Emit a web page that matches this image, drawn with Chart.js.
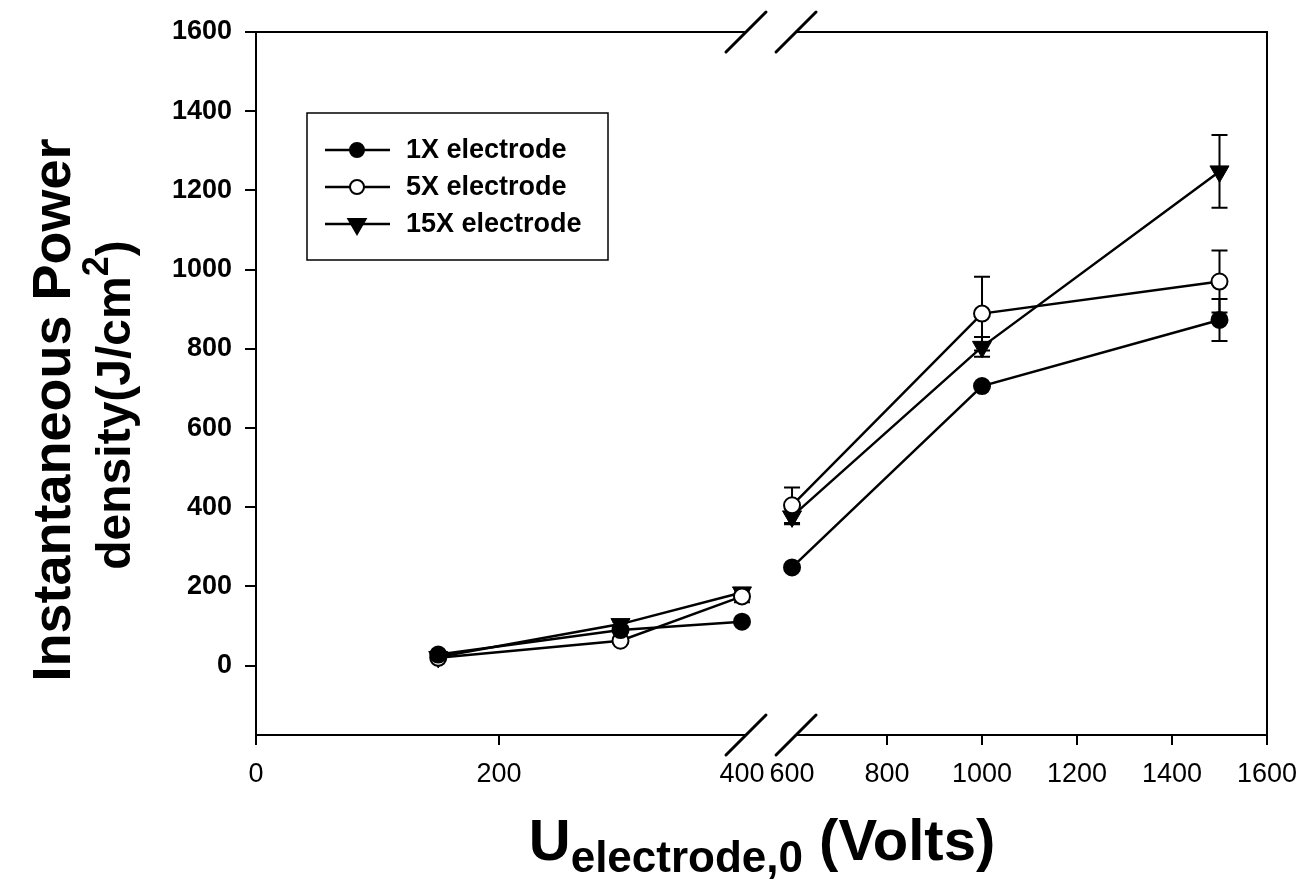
<!DOCTYPE html>
<html>
<head>
<meta charset="utf-8">
<title>Instantaneous Power density</title>
<script src="https://cdn.jsdelivr.net/npm/chart.js@4.4.1/dist/chart.umd.min.js"></script>
<style>
  html, body { margin: 0; padding: 0; background: #fff; }
  #wrap { width: 1302px; height: 881px; }
</style>
</head>
<body>
<div id="wrap"><canvas id="chart" width="1302" height="881"></canvas></div>
<script>
// Voltages (V) used for every electrode
const voltages = [150, 300, 400, 600, 1000, 1500];

// Instantaneous power density (J/cm2) with error bars
const power1x = [28, 90, 111, 248, 706, 873];
const err1x = [0, 0, 0, 0, 0, 53];
const power5x = [20, 63, 175, 405, 889, 970];
const err5x = [0, 6, 15, 45, 93, 78];
const power15x = [22, 105, 185, 377, 805, 1248];
const err15x = [0, 6, 8, 20, 25, 92];

const seriesNames = ['1X electrode', '5X electrode', '15X electrode'];

// Tick labels
const xTicks = [0, 200, 400, 600, 800, 1000, 1200, 1400, 1600];
const yTicks = [0, 200, 400, 600, 800, 1000, 1200, 1400, 1600];

// Broken x axis: 0-400, then 600-1600
const breakLo = 400;
const breakHi = 600;
const leftShare = 0.4807;  // share of the axis width for 0..400
const rightStart = 0.5302; // where 600 starts

const FONT = "'Liberation Sans', Arial, sans-serif";

class BrokenScale extends Chart.LinearScale {
  getPixelForValue(value) {
    if (value === null || value === undefined) return NaN;
    let dec;
    if (value <= breakLo) {
      dec = (value - this.min) / (breakLo - this.min) * leftShare;
    } else if (value >= breakHi) {
      dec = rightStart + (value - breakHi) / (this.max - breakHi) * (1 - rightStart);
    } else {
      dec = leftShare + (value - breakLo) / (breakHi - breakLo) * (rightStart - leftShare);
    }
    return this.getPixelForDecimal(dec);
  }
  getValueForPixel(pixel) {
    const dec = this.getDecimalForPixel(pixel);
    if (dec <= leftShare) return this.min + dec / leftShare * (breakLo - this.min);
    if (dec >= rightStart) return breakHi + (dec - rightStart) / (1 - rightStart) * (this.max - breakHi);
    return breakLo + (dec - leftShare) / (rightStart - leftShare) * (breakHi - breakLo);
  }
}
BrokenScale.id = 'broken';
Chart.register(BrokenScale);

const toPoints = (ys) => voltages.map((v, i) => ({ x: v, y: ys[i] }));

// no line across the axis break
const skipBreak = (ctx) =>
  ctx.p0.parsed.x <= breakLo && ctx.p1.parsed.x >= breakHi ? 'rgba(0,0,0,0)' : '#000';

// error bars, drawn below the markers
const errorBars = {
  id: 'errorBars',
  beforeDatasetsDraw(chart) {
    const { ctx, scales: { x, y } } = chart;
    ctx.save();
    ctx.strokeStyle = '#000';
    ctx.lineWidth = 2;
    chart.data.datasets.forEach((ds) => {
      ds.data.forEach((p, i) => {
        const e = ds.errors[i];
        if (!e) return;
        const px = x.getPixelForValue(p.x);
        const top = y.getPixelForValue(p.y + e);
        const bot = y.getPixelForValue(p.y - e);
        ctx.beginPath();
        ctx.moveTo(px, top); ctx.lineTo(px, bot);
        ctx.moveTo(px - 8, top); ctx.lineTo(px + 8, top);
        ctx.moveTo(px - 8, bot); ctx.lineTo(px + 8, bot);
        ctx.stroke();
      });
    });
    ctx.restore();
  }
};

// frame with the break marks on top and bottom
const axisFrame = {
  id: 'axisFrame',
  beforeDatasetsDraw(chart) {
    const { ctx, chartArea: a, scales: { x } } = chart;
    const b1 = x.getPixelForValue(breakLo) + 4;
    const b2 = x.getPixelForValue(breakHi) + 4;
    ctx.save();
    ctx.strokeStyle = '#000';
    ctx.lineWidth = 2;
    ctx.lineCap = 'square';
    ctx.beginPath();
    ctx.moveTo(a.left, a.top); ctx.lineTo(a.left, a.bottom);
    ctx.moveTo(a.right, a.top); ctx.lineTo(a.right, a.bottom);
    [a.top, a.bottom].forEach((yy) => {
      ctx.moveTo(a.left, yy); ctx.lineTo(b1, yy);
      ctx.moveTo(b2, yy); ctx.lineTo(a.right, yy);
    });
    ctx.stroke();
    ctx.lineWidth = 3;
    ctx.lineCap = 'round';
    ctx.beginPath();
    [a.top, a.bottom].forEach((yy) => [b1, b2].forEach((bx) => {
      ctx.moveTo(bx - 20, yy + 20); ctx.lineTo(bx + 20, yy - 20);
    }));
    ctx.stroke();
    ctx.restore();
  }
};

// legend box inside the plot
const boxLegend = {
  id: 'boxLegend',
  afterDatasetsDraw(chart) {
    const { ctx } = chart;
    ctx.save();
    ctx.strokeStyle = '#000';
    ctx.lineWidth = 1.5;
    ctx.strokeRect(307, 113, 301, 147);
    chart.data.datasets.forEach((ds, i) => {
      const yy = 150 + i * 37;
      ctx.lineWidth = 2.5;
      ctx.beginPath();
      ctx.moveTo(325, yy); ctx.lineTo(390, yy);
      ctx.stroke();
      ctx.fillStyle = ds.pointBackgroundColor;
      ctx.strokeStyle = '#000';
      ctx.lineWidth = 2;
      Chart.helpers.drawPoint(ctx, {
        pointStyle: ds.pointStyle,
        radius: ds.pointRadius - 1,
        rotation: ds.pointRotation || 0,
        borderWidth: 2
      }, 357, yy);
      ctx.fillStyle = '#000';
      ctx.font = 'bold 27px ' + FONT;
      ctx.textBaseline = 'middle';
      ctx.textAlign = 'left';
      ctx.fillText(seriesNames[i], 406, yy + 1);
    });
    ctx.restore();
  }
};

// axis titles with sub/superscripts
const axisTitles = {
  id: 'axisTitles',
  afterDraw(chart) {
    const { ctx } = chart;
    ctx.save();
    ctx.fillStyle = '#000';
    ctx.textBaseline = 'alphabetic';
    ctx.textAlign = 'left';

    // x title: U_electrode,0 (Volts)
    const big = 'bold 58px ' + FONT;
    const sub = 'bold 44px ' + FONT;
    const parts = [['U', big, 0], ['electrode,0', sub, 12], [' (Volts)', big, 0]];
    let w = 0;
    parts.forEach(([t, f]) => { ctx.font = f; w += ctx.measureText(t).width; });
    let xx = 762 - w / 2;
    parts.forEach(([t, f, dy]) => {
      ctx.font = f;
      ctx.fillText(t, xx, 860 + dy);
      xx += ctx.measureText(t).width;
    });

    // y title, two lines rotated
    ctx.rotate(-Math.PI / 2);
    ctx.font = 'bold 54px ' + FONT;
    ctx.textAlign = 'center';
    ctx.fillText('Instantaneous Power', -410, 70);

    const l2 = [['density(J/cm', 'bold 48px ' + FONT, 0], ['2', 'bold 36px ' + FONT, -22], [')', 'bold 48px ' + FONT, 0]];
    ctx.textAlign = 'left';
    let tw = 0;
    l2.forEach(([t, f]) => { ctx.font = f; tw += ctx.measureText(t).width; });
    let pos = -405 - tw / 2;
    l2.forEach(([t, f, dy]) => {
      ctx.font = f;
      ctx.fillText(t, pos, 130 + dy);
      pos += ctx.measureText(t).width;
    });
    ctx.restore();
  }
};

const ctx = document.getElementById('chart').getContext('2d');
const chart = new Chart(ctx, {
  type: 'line',
  data: {
    datasets: [
      {
        label: seriesNames[0],
        data: toPoints(power1x),
        errors: err1x,
        borderColor: '#000',
        borderWidth: 2.5,
        pointStyle: 'circle',
        pointRadius: 8,
        pointBackgroundColor: '#000',
        pointBorderColor: '#000',
        pointBorderWidth: 2,
        segment: { borderColor: skipBreak }
      },
      {
        label: seriesNames[1],
        data: toPoints(power5x),
        errors: err5x,
        borderColor: '#000',
        borderWidth: 2.5,
        pointStyle: 'circle',
        pointRadius: 8,
        pointBackgroundColor: '#fff',
        pointBorderColor: '#000',
        pointBorderWidth: 2,
        segment: { borderColor: skipBreak }
      },
      {
        label: seriesNames[2],
        data: toPoints(power15x),
        errors: err15x,
        borderColor: '#000',
        borderWidth: 2.5,
        pointStyle: 'triangle',
        pointRotation: 180,
        pointRadius: 11,
        pointBackgroundColor: '#000',
        pointBorderColor: '#000',
        pointBorderWidth: 1,
        segment: { borderColor: skipBreak }
      }
    ]
  },
  options: {
    responsive: false,
    animation: false,
    layout: { padding: { top: 32, right: 35, left: 0, bottom: 0 } },
    plugins: {
      legend: { display: false },
      tooltip: { enabled: false }
    },
    scales: {
      x: {
        type: 'broken',
        min: 0,
        max: 1600,
        afterBuildTicks: (axis) => { axis.ticks = xTicks.map((v) => ({ value: v })); },
        afterFit: (axis) => {
          axis.height = 146;
          axis.paddingLeft = 0;
          axis.paddingRight = 0;
        },
        border: { display: false },
        grid: {
          drawOnChartArea: false,
          tickLength: 10,
          lineWidth: 2,
          color: (c) => (c.tick && (c.tick.value === breakLo || c.tick.value === breakHi)) ? 'rgba(0,0,0,0)' : '#000'
        },
        ticks: {
          autoSkip: false,
          maxRotation: 0,
          padding: 13,
          color: '#000',
          callback: (v) => String(v),
          font: { family: FONT, size: 27 }
        }
      },
      y: {
        min: -175,
        max: 1600,
        afterBuildTicks: (axis) => { axis.ticks = yTicks.map((v) => ({ value: v })); },
        afterFit: (axis) => {
          axis.width = 256;
          axis.paddingTop = 0;
          axis.paddingBottom = 0;
        },
        border: { display: false },
        grid: {
          drawOnChartArea: false,
          tickLength: 11,
          lineWidth: 2,
          color: '#000'
        },
        ticks: {
          padding: 13,
          color: '#000',
          callback: (v) => String(v),
          font: { family: FONT, size: 27, weight: 'bold' }
        }
      }
    }
  },
  plugins: [axisFrame, errorBars, boxLegend, axisTitles]
});
</script>
</body>
</html>
